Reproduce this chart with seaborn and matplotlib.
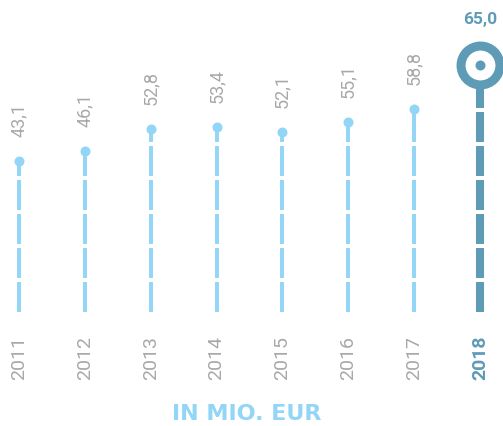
import matplotlib
matplotlib.use("Agg")
import matplotlib.pyplot as plt
import matplotlib.transforms as mtransforms
import seaborn as sns
import pandas as pd

years = ["2011", "2012", "2013", "2014", "2015", "2016", "2017", "2018"]
values = [43.1, 46.1, 52.8, 53.4, 52.1, 55.1, 58.8, 65.0]
value_labels = ["43,1", "46,1", "52,8", "53,4", "52,1", "55,1", "58,8", "65,0"]
unit_label = "IN MIO. EUR"

LIGHT = "#92d5f6"
TEAL = "#5e9bb7"
GRAY = "#a8a8a8"

sns.set_theme(style="white")
plt.rcParams["font.family"] = ["Roboto", "DejaVu Sans"]
plt.rcParams["lines.scale_dashes"] = False

W, H, DPI = 503, 427, 100
fig = plt.figure(figsize=(W / DPI, H / DPI), dpi=DPI)
fig.patch.set_facecolor("white")
base_px = 313
ax = fig.add_axes([0, (H - base_px) / H, 1, base_px / H])
ax.set_facecolor("white")

n = len(years)
xs = list(range(n))
df = pd.DataFrame({"x": xs, "value": values, "year": years})

# scale: value 0 at pixel 305, 3.31 px per unit
px_per_unit = 3.31
zero_px = 305
ymin = -(base_px - zero_px) / px_per_unit
ymax = zero_px / px_per_unit
ax.set_ylim(ymin, ymax)
spacing = (480 - 19) / 7
ax.set_xlim(-19 / spacing, 7 + (W - 480) / spacing)

dash = (0, (30 * 0.72, 4 * 0.72))
colors = [LIGHT] * (n - 1) + [TEAL]
widths = [2.8] * (n - 1) + [5.8]
for i in range(n):
    ax.plot([xs[i], xs[i]], [ymin, values[i]], color=colors[i], lw=widths[i],
            linestyle=dash, solid_capstyle="butt", dash_capstyle="butt", zorder=1)

# small dots
sns.scatterplot(data=df.iloc[:-1], x="x", y="value", ax=ax, color=LIGHT,
                s=7.2 ** 2, linewidth=0, zorder=3, legend=False)

# big ring for last year, sitting on top of stem
off = mtransforms.offset_copy(ax.transData, fig=fig, x=0, y=24, units="dots")
ax.plot([xs[-1]], [values[-1]], marker="o", markersize=28, markerfacecolor="white",
        markeredgecolor=TEAL, markeredgewidth=6.5, transform=off, zorder=4)
ax.plot([xs[-1]], [values[-1]], marker="o", markersize=7.2, markerfacecolor=TEAL,
        markeredgewidth=0, transform=off, zorder=5)

# value labels
for i in range(n - 1):
    ax.annotate(value_labels[i], (xs[i], values[i]), xytext=(0, 18),
                textcoords="offset points", rotation=90, ha="center", va="bottom",
                color=GRAY, fontsize=13)
ax.annotate(value_labels[-1], (xs[-1], values[-1]), xytext=(0, 51),
            textcoords="offset points", ha="center", va="center",
            color=TEAL, fontsize=12.5, fontweight="bold")

# year ticks
ax.set_xticks(xs)
ax.set_xticklabels(years, rotation=90)
ax.tick_params(axis="x", length=0, pad=16.5, labelsize=14, labelcolor=GRAY)
lbls = ax.get_xticklabels()
lbls[-1].set_color(TEAL)
lbls[-1].set_fontweight("bold")
ax.set_yticks([])
for s in ax.spines.values():
    s.set_visible(False)
ax.set_xlabel("")
ax.set_ylabel("")

fig.text(247 / W, (H - 420) / H, unit_label, ha="center", va="baseline",
         color=LIGHT, fontsize=16, fontweight="bold", family=["DejaVu Sans"])

fig.savefig("out.png", dpi=DPI, facecolor="white")
